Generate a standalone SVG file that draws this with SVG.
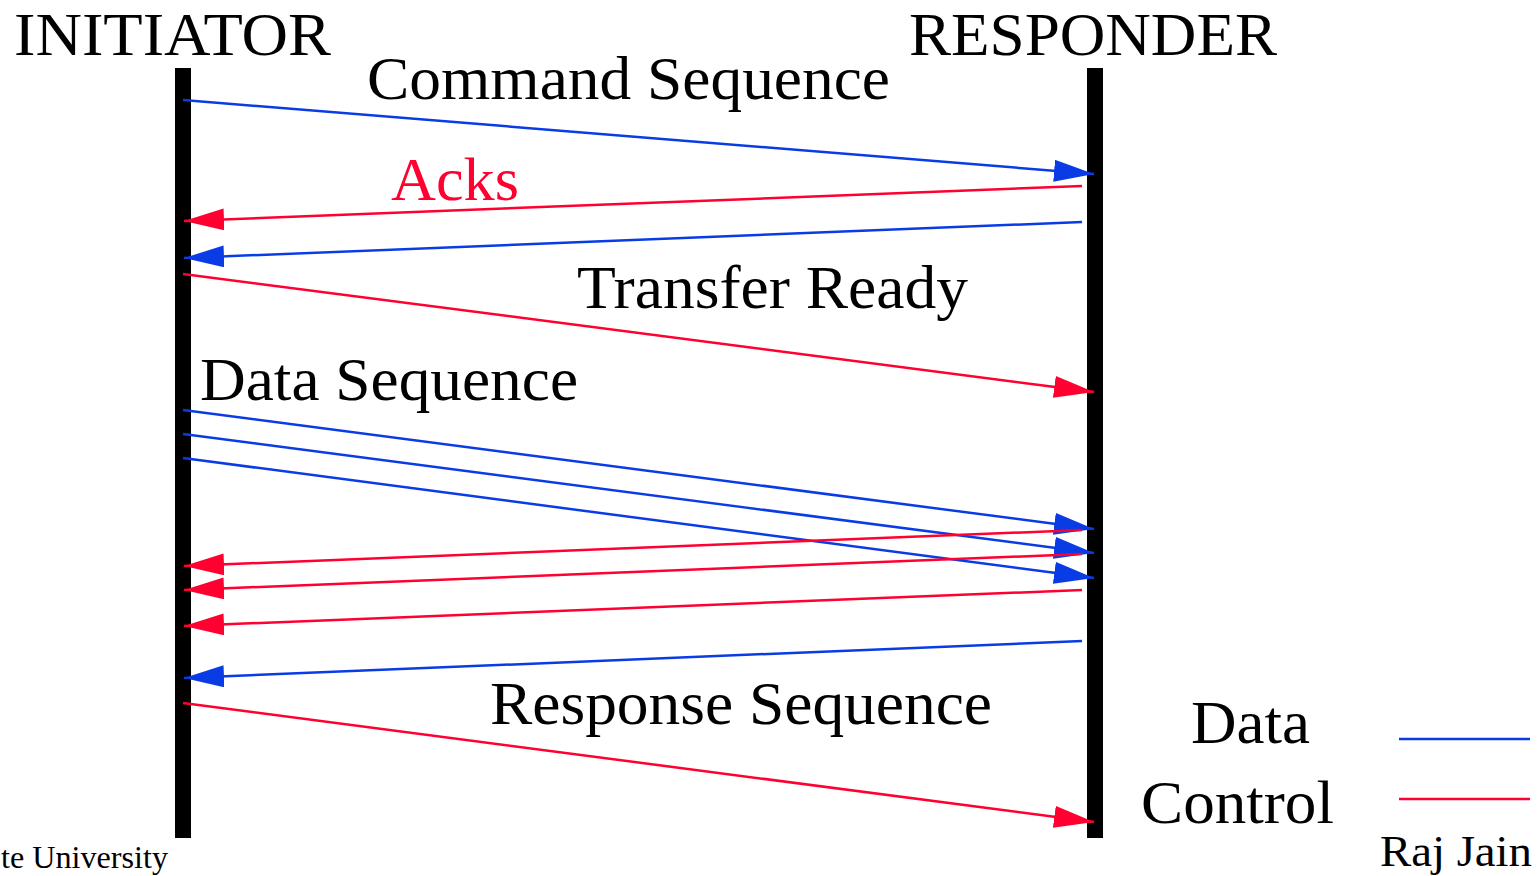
<svg xmlns="http://www.w3.org/2000/svg" width="1537" height="876" viewBox="0 0 1537 876">
<style>
text{font-family:"Liberation Serif","Times New Roman",serif;fill:#000}
.big{font-size:62px}
.d{stroke:#0A3CE6;stroke-width:2.5;fill:none}
.c{stroke:#FF0030;stroke-width:2.5;fill:none}
.dm{marker-end:url(#ad)}
.cm{marker-end:url(#ac)}
</style>
<defs>
<marker id="ad" markerUnits="userSpaceOnUse" markerWidth="40" markerHeight="22" refX="40" refY="11" orient="auto" viewBox="0 0 40 22"><path d="M0,0 L40,11 L0,22 z" fill="#0A3CE6"/></marker>
<marker id="ac" markerUnits="userSpaceOnUse" markerWidth="40" markerHeight="22" refX="40" refY="11" orient="auto" viewBox="0 0 40 22"><path d="M0,0 L40,11 L0,22 z" fill="#FF0030"/></marker>
</defs>
<rect width="1537" height="876" fill="#fff"/>
<g id="initiator">
<rect x="175" y="68" width="16" height="770" fill="#000"/>
<text class="big" x="14" y="55" textLength="317" lengthAdjust="spacingAndGlyphs">INITIATOR</text>
</g>
<g id="responder">
<rect x="1087" y="68" width="16" height="770" fill="#000"/>
<text class="big" x="909" y="55" textLength="368" lengthAdjust="spacingAndGlyphs">RESPONDER</text>
</g>
<g id="labels">
<text class="big" x="367" y="99" textLength="523" lengthAdjust="spacingAndGlyphs">Command Sequence</text>
<text class="big" x="391" y="200" textLength="128" lengthAdjust="spacingAndGlyphs" style="fill:#FF0030">Acks</text>
<text class="big" x="577" y="308" textLength="391" lengthAdjust="spacingAndGlyphs">Transfer Ready</text>
<text class="big" x="200" y="400" textLength="378" lengthAdjust="spacingAndGlyphs">Data Sequence</text>
<text class="big" x="490" y="724" textLength="502" lengthAdjust="spacingAndGlyphs">Response Sequence</text>
</g>
<g id="connectors">
<line class="d dm" x1="183" y1="100" x2="1094" y2="174"/>
<line class="c cm" x1="1082" y1="186" x2="184" y2="221"/>
<line class="d dm" x1="1082" y1="222" x2="184" y2="258"/>
<line class="c cm" x1="183" y1="274" x2="1094" y2="392"/>
<line class="d dm" x1="183" y1="410" x2="1094" y2="529"/>
<line class="d dm" x1="183" y1="434" x2="1094" y2="553"/>
<line class="d dm" x1="183" y1="458" x2="1094" y2="578"/>
<line class="c cm" x1="1082" y1="530" x2="184" y2="566"/>
<line class="c cm" x1="1082" y1="554" x2="184" y2="590"/>
<line class="c cm" x1="1082" y1="590" x2="184" y2="626"/>
<line class="d dm" x1="1082" y1="641" x2="184" y2="678"/>
<line class="c cm" x1="183" y1="703" x2="1094" y2="822"/>
</g>
<g id="legend">
<text class="big" x="1191" y="743" textLength="119" lengthAdjust="spacingAndGlyphs">Data</text>
<text class="big" x="1141" y="823" textLength="193" lengthAdjust="spacingAndGlyphs">Control</text>
<line class="d" x1="1399" y1="739" x2="1530" y2="739"/>
<line class="c" x1="1399" y1="799" x2="1530" y2="799"/>
</g>
<g id="footer">
<text x="1" y="868" font-size="31" textLength="167" lengthAdjust="spacingAndGlyphs">te University</text>
<text x="1380" y="866" font-size="44" textLength="152" lengthAdjust="spacingAndGlyphs">Raj Jain</text>
</g>
</svg>
